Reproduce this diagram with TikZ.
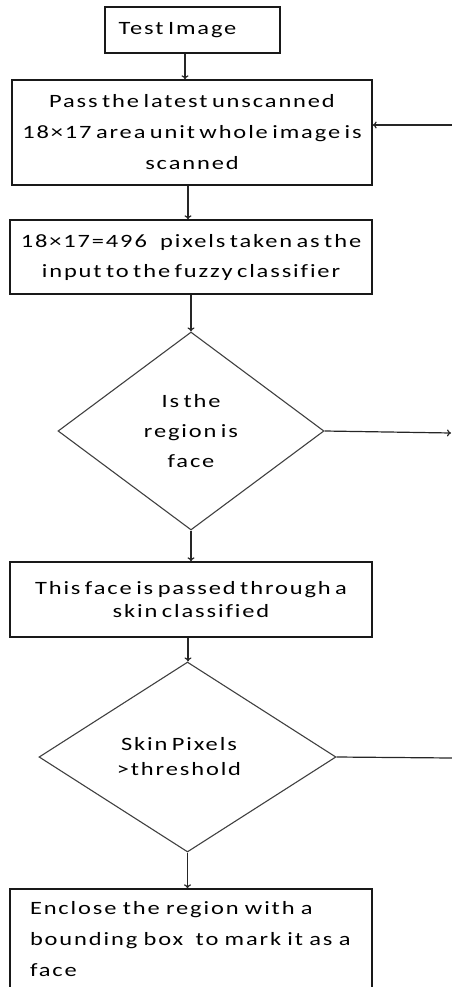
\documentclass[tikz,border=0pt]{standalone}
\usepackage{fontspec}
\setmainfont{Carlito}[FakeStretch=1.3,LetterSpace=10,WordSpace=0.6,Ligatures=NoCommon]
\usetikzlibrary{shapes.geometric,arrows.meta}
\begin{document}
\begin{tikzpicture}[x=1pt,y=-1pt,
  box/.style={draw=black!90,line width=1.3pt,rectangle,inner sep=0pt,align=center},
  dia/.style={draw=black!75,line width=1.1pt,diamond,inner sep=0pt,aspect=1.34,align=center},
  arr/.style={draw=black!85,line width=1.2pt,-{To[length=4pt,width=7pt]}},
  ln/.style={draw=black!85,line width=1.2pt},
  txt/.style={font=\fontsize{18.8}{#1}\selectfont}]
\useasboundingbox (0,0) rectangle (452,987);
\clip (0,0) rectangle (452,987);
\node[box,minimum width=175pt,minimum height=46pt,txt=22] (b1) at (192.5,30) {Test Image\hspace*{30pt}};
\node[box,minimum width=360pt,minimum height=105pt,txt=31] (b2) at (192,132.5) {Pass the latest unscanned\\18×17 area unit whole image is\\scanned};
\node[box,minimum width=362pt,minimum height=74pt,txt=30] (b3) at (191,257) {18×17=496\ \ \ pixels taken as the\\input to the fuzzy classifier};
\node[dia,minimum width=266pt,minimum height=198pt,txt=30] (d1) at (191,431) {Is the\\region is\\face};
\node[box,minimum width=362pt,minimum height=75pt,txt=23] (b4) at (191,599.5) {This face is passed through a\\skin classified};
\node[dia,minimum width=297pt,minimum height=190pt,txt=25] (d2) at (187.5,757) {Skin Pixels\hspace*{17pt}\\>threshold\hspace*{17pt}};
\node[box,minimum width=362pt,minimum height=100pt,txt=31,align=left,text width=322pt] (b5) at (191,939) {Enclose the region with a\\bounding box\ \ to mark it as a\\face};
\draw[arr] ([xshift=-7.5pt]b1.south) -- ([xshift=-7.5pt]b1.south |- b2.north);
\draw[arr] ([xshift=-4pt]b2.south) -- ([xshift=-4pt]b2.south |- b3.north);
\draw[arr] (b3.south) -- (d1.north);
\draw[arr] (d1.south) -- (b4.north);
\draw[arr] ([xshift=-3pt]b4.south) -- ([xshift=-3pt]b4.south |- d2.north);
\draw[arr] (d2.south) -- (d2.south |- b5.north);
\coordinate (e1) at (452,125);
\draw[arr] (e1) -- (e1 -| b2.east);
\coordinate (e2) at (451,433);
\draw[arr] (d1.east) -- (e2);
\coordinate (e3) at (452,758);
\draw[ln] (d2.east) -- (e3);
\end{tikzpicture}
\end{document}
